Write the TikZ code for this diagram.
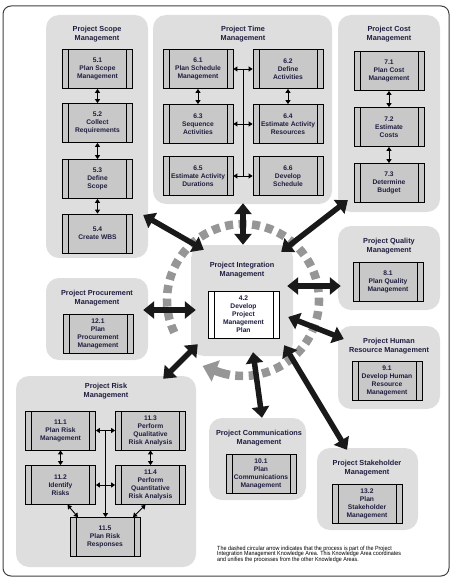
\documentclass[tikz,border=0pt]{standalone}
\usepackage{fontspec}
\setmainfont{Liberation Sans}
\newfontfamily\notefont[FakeStretch=0.9]{Liberation Sans}
\usetikzlibrary{arrows.meta,calc}
\definecolor{grpfill}{RGB}{222,222,222}
\definecolor{boxfill}{RGB}{200,200,200}
\definecolor{txt}{RGB}{30,30,65}
\definecolor{ringgray}{RGB}{150,150,150}
\definecolor{arrowblk}{RGB}{25,25,25}
\tikzset{
 grp/.style={fill=grpfill, rounded corners=13pt, inner sep=0pt},
 proc/.style={draw=black, line width=0.7pt, fill=boxfill, minimum width=70pt, minimum height=39pt,
   inner sep=0pt, align=center, text=txt, font=\fontsize{6.7}{8}\selectfont\bfseries,
   path picture={\draw[line width=0.7pt]
     ([xshift=6pt]path picture bounding box.north west) -- ([xshift=6pt]path picture bounding box.south west)
     ([xshift=-6pt]path picture bounding box.north east) -- ([xshift=-6pt]path picture bounding box.south east);}},
 ttl/.style={align=center, text=txt, font=\fontsize{7.3}{9}\selectfont\bfseries, inner sep=0pt},
 big/.style={draw=arrowblk, line width=5.5pt, {Triangle[length=11pt,width=17pt]}-{Triangle[length=11pt,width=17pt]}},
 sm/.style={draw=black, line width=0.9pt, {Triangle[length=4pt,width=5pt]}-{Triangle[length=4pt,width=5pt]}},
 smone/.style={draw=black, line width=0.9pt, -{Triangle[length=4pt,width=5pt]}},
 plainline/.style={draw=black, line width=0.9pt},
}
\begin{document}
\begin{tikzpicture}[x=1pt,y=-1pt]
\useasboundingbox (0,0) rectangle (453,578);
\draw[line width=1pt, draw=black!75, rounded corners=8pt] (3,6) rectangle (449,576);

% groups
\node[grp, minimum width=102pt, minimum height=243pt] (scope) at (97,136.5) {};
\node[grp, minimum width=179pt, minimum height=189pt] (time) at (242.5,109.5) {};
\node[grp, minimum width=102pt, minimum height=197pt] (cost) at (389,113.5) {};
\node[grp, minimum width=102pt, minimum height=84pt] (quality) at (389,268) {};
\node[grp, minimum width=102pt, minimum height=83pt] (hr) at (389,367.5) {};
\node[grp, minimum width=102pt, minimum height=82pt] (procure) at (97,319) {};
\node[grp, minimum width=102pt, minimum height=111pt] (integ) at (242,300.5) {};
\node[grp, minimum width=180pt, minimum height=191pt] (risk) at (106,471.5) {};
\node[grp, minimum width=97pt, minimum height=82pt] (comm) at (257.5,459) {};
\node[grp, minimum width=101pt, minimum height=82pt] (stake) at (367.5,489) {};

% titles
\node[ttl] (scopeT) at (97,34.5) {Project Scope\\Management};
\node[ttl] (timeT) at (243,34.5) {Project Time\\Management};
\node[ttl] (costT) at (389,34.5) {Project Cost\\Management};
\node[ttl] (qualT) at (389,246.5) {Project Quality\\Management};
\node[ttl] (hrT) at (389,346) {Project Human\\Resource Management};
\node[ttl] (procT) at (97,298.5) {Project Procurement\\Management};
\node[ttl] (integT) at (242,270.5) {Project Integration\\Management};
\node[ttl] (riskT) at (106,391.5) {Project Risk\\Management};
\node[ttl] (commT) at (259,438) {Project Communications\\Management};
\node[ttl] (stakeT) at (367,468.5) {Project Stakeholder\\Management};

% process boxes
\node[proc] (s51) at (97.5,69) {5.1\\Plan Scope\\Management};
\node[proc] (s52) at (97.5,123) {5.2\\Collect\\Requirements};
\node[proc] (s53) at (97.5,179) {5.3\\Define\\Scope};
\node[proc] (s54) at (97.5,233.5) {5.4\\Create WBS};
\node[proc] (t61) at (198,69) {6.1\\Plan Schedule\\Management};
\node[proc] (t62) at (288,69) {6.2\\Define\\Activities};
\node[proc] (t63) at (198,124) {6.3\\Sequence\\Activities};
\node[proc] (t64) at (288,124) {6.4\\Estimate Activity\\Resources};
\node[proc] (t65) at (198,176) {6.5\\Estimate Activity\\Durations};
\node[proc] (t66) at (288,176) {6.6\\Develop\\Schedule};
\node[proc] (c71) at (389,71) {7.1\\Plan Cost\\Management};
\node[proc] (c72) at (389,127) {7.2\\Estimate\\Costs};
\node[proc] (c73) at (389,183) {7.3\\Determine\\Budget};
\node[proc] (q81) at (388,282) {8.1\\Plan Quality\\Management};
\node[proc] (h91) at (387,380.5) {9.1\\Develop Human\\Resource\\Management};
\node[proc] (p121) at (98,333.5) {12.1\\Plan\\Procurement\\Management};
\node[proc, fill=white, minimum width=71pt, minimum height=47pt] (i42) at (243.5,314.5) {4.2\\Develop\\Project\\Management\\Plan};
\node[proc] (r111) at (60.5,430.5) {11.1\\Plan Risk\\Management};
\node[proc] (r113) at (150.5,430.5) {11.3\\Perform\\Qualitative\\Risk Analysis};
\node[proc] (r112) at (60.5,485) {11.2\\Identify\\Risks};
\node[proc] (r114) at (150.5,485) {11.4\\Perform\\Quantitative\\Risk Analysis};
\node[proc] (r115) at (105,537) {11.5\\Plan Risk\\Responses};
\node[proc] (m101) at (261,474) {10.1\\Plan\\Communications\\Management};
\node[proc] (k132) at (367,504) {13.2\\Plan\\Stakeholder\\Management};

% small connectors
\draw[sm] (s51) -- (s52);
\draw[sm] (s52) -- (s53);
\draw[sm] (s53) -- (s54);
\draw[sm] (t61) -- (t63);
\draw[sm] (t62) -- (t64);
\draw[plainline] ($(t61.east)!0.5!(t62.west)$) -- ($(t65.east)!0.5!(t66.west)$);
\draw[sm] (t61) -- (t62);
\draw[sm] (t63) -- (t64);
\draw[sm] (t65) -- (t66);
\draw[sm] (c71) -- (c72);
\draw[sm] (c72) -- (c73);
\draw[sm] (r111) -- (r112);
\draw[sm] (r113) -- (r114);
\coordinate (rmid) at ($(r111.east)!0.5!(r113.west)$);
\draw[smone] (rmid) -- (rmid |- r115.north);
\draw[sm] (r111) -- (r113);
\draw[sm] (r112) -- (r114);
\draw[sm] ([xshift=7pt]r112.south) -- ([xshift=-27pt]r115.north);
\draw[sm] ([xshift=-5pt]r114.south) -- ([xshift=28pt]r115.north);

% dashed ring
\coordinate (rc) at (243,300);
\draw[ringgray, line width=8.5pt, dash pattern=on 8pt off 5.5pt] ($(rc)+(154.7:76)$) arc[start angle=154.7, end angle=456, radius=76];
\draw[ringgray, line width=8.5pt] ($(rc)+(100:76)$) arc[start angle=100, end angle=111.5, radius=76];
\fill[ringgray] ($(rc)+(111:64.5)$) -- ($(rc)+(111:87.5)$) -- ($(rc)+(111:76)+(201:14)$) -- cycle;

% big arrows
\draw[big] ([shift={(-5,78.5)}]scope.east) -- ([shift={(13,5)}]integ.north west);
\draw[big] ([shift={(0.5,-1)}]time.south) -- ([shift={(1,0)}]integ.north);
\draw[big] ([shift={(10,-12)}]cost.south west) -- ([shift={(-12,7)}]integ.north east);
\draw[big] ([shift={(3,18)}]quality.west) -- ([shift={(-6,-14.5)}]integ.east);
\draw[big] ([shift={(6,-28.5)}]hr.west) -- ([shift={(-5,16.5)}]integ.east);
\draw[big] ([shift={(-5,-9)}]procure.east) -- ([shift={(5,9.5)}]integ.west);
\draw[big] ([shift={(-33,3)}]risk.north east) -- ([shift={(7,-12)}]integ.south west);
\draw[big] ([shift={(4.5,0)}]comm.north) -- ([shift={(11,-4)}]integ.south);
\draw[big] ([shift={(-20.5,2)}]stake.north) -- ([shift={(-9,-11)}]integ.south east);

% note
\node[anchor=north west, align=left, inner sep=0pt, font=\notefont\fontsize{6.0}{5.7}\selectfont] (note) at (217,545.5)
 {The dashed circular arrow indicates that the process is part of the Project\\
  Integration Management Knowledge Area. This Knowledge Area coordinates\\
  and unifies the processes from the other Knowledge Areas.};
\end{tikzpicture}
\end{document}
